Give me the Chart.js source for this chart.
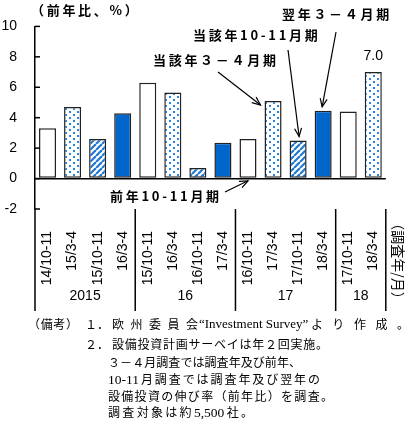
<!DOCTYPE html>
<html lang="ja">
  <head>
    <meta charset="UTF-8" />
    <title>欧州 設備投資計画サーベイ</title>
    <script src="https://cdn.jsdelivr.net/npm/chart.js"></script>
    <style>
      body {
        margin: 0;
        background: #fff;
      }
      #wrap {
        position: relative;
        width: 413px;
        height: 432px;
      }
      canvas {
        position: absolute;
        left: 0;
        top: 0;
      }
      .note {
        position: absolute;
        font-family: "Liberation Serif", "Noto Sans CJK JP", serif;
        font-size: 12px;
        line-height: 16px;
        white-space: nowrap;
        color: #000;
      }
      .fit {
        text-align: justify;
        text-align-last: justify;
        text-justify: inter-character;
      }
      .en {
        font-size: 13px;
      }
      .num {
        font-size: 13.5px;
      }
    </style>
  </head>
  <body>
    <div id="wrap">
      <canvas id="chart" width="413" height="432"></canvas>
      <div class="note fit" style="left: 28px; top: 317px; width: 50px">（備考）</div>
      <div class="note" style="left: 85px; top: 317px">１．</div>
      <div class="note fit" style="left: 112px; top: 317px; width: 86px">欧州委員会</div>
      <div class="note en" style="left: 199px; top: 316px">“Investment Survey”</div>
      <div class="note fit" style="left: 311px; top: 317px; width: 98px">より作成。</div>
      <div class="note" style="left: 85px; top: 337px">２．</div>
      <div class="note fit" style="left: 112px; top: 337px; width: 216px">設備投資計画サーベイは年２回実施。</div>
      <div class="note fit" style="left: 108px; top: 355px; width: 193px">３－４月調査では調査年及び前年、</div>
      <div class="note fit" style="left: 108px; top: 372px; width: 212px"><span class="num">10-11</span>月調査では調査年及び翌年の</div>
      <div class="note fit" style="left: 108px; top: 389px; width: 225px">設備投資の伸び率（前年比）を調査。</div>
      <div class="note fit" style="left: 108px; top: 405px; width: 145px">調査対象は約<span class="num">5,500</span>社。</div>
    </div>
    <script>
      // survey (year/month) and growth rate of planned investment, % y/y
      const categories = [
        "14/10-11", "15/3-4", "15/10-11", "16/3-4",
        "15/10-11", "16/3-4", "16/10-11", "17/3-4",
        "16/10-11", "17/3-4", "17/10-11", "18/3-4",
        "17/10-11", "18/3-4",
      ];
      const growth = [3.3, 4.7, 2.6, 4.3, 6.3, 5.65, 0.7, 2.35, 2.6, 5.1, 2.5, 4.45, 4.4, 7.0];
      const years = ["2015", "16", "17", "18"];
      const yearSpan = [4, 4, 4, 2];

      const BLUE = "#0066cc";
      const latin = "'Liberation Sans', Arial, sans-serif";
      const jp = "'Noto Sans CJK JP', sans-serif";

      function makePattern(draw, w, h) {
        const c = document.createElement("canvas");
        c.width = w;
        c.height = h;
        const g = c.getContext("2d");
        g.fillStyle = "#fff";
        g.fillRect(0, 0, w, h);
        draw(g);
        return c.getContext("2d").createPattern(c, "repeat");
      }
      const dots = makePattern((g) => {
        g.fillStyle = "#2a86dc";
        g.fillRect(1, 0, 2, 2);
        g.fillRect(5, 3, 2, 2);
      }, 8, 6);
      const hatch = makePattern((g) => {
        g.strokeStyle = "#1f79d4";
        g.lineWidth = 2.2;
        for (let k = -6; k <= 12; k += 6) {
          g.beginPath();
          g.moveTo(k, 6);
          g.lineTo(k + 6, 0);
          g.stroke();
        }
      }, 6, 6);
      // survey cycle: prev 10-11, same 3-4, same 10-11, next 3-4
      const fills = ["#ffffff", dots, hatch, BLUE];

      function line(ctx, x1, y1, x2, y2) {
        ctx.beginPath();
        ctx.moveTo(x1, y1);
        ctx.lineTo(x2, y2);
        ctx.stroke();
      }
      function arrow(ctx, x1, y1, x2, y2) {
        line(ctx, x1, y1, x2, y2);
        const a = Math.atan2(y2 - y1, x2 - x1);
        const len = 9, sp = 0.4;
        ctx.beginPath();
        ctx.moveTo(x2 - len * Math.cos(a - sp), y2 - len * Math.sin(a - sp));
        ctx.lineTo(x2, y2);
        ctx.lineTo(x2 - len * Math.cos(a + sp), y2 - len * Math.sin(a + sp));
        ctx.stroke();
      }

      const extras = {
        id: "extras",
        afterDraw(chart) {
          const { ctx, chartArea: a, scales } = chart;
          const x = scales.x, y = scales.y;
          const bars = chart.getDatasetMeta(0).data;
          ctx.save();
          ctx.strokeStyle = "#000";
          ctx.lineWidth = 1.5;
          line(ctx, a.left, a.bottom, a.left, 311);
          y.ticks.forEach((t) => {
            const py = y.getPixelForValue(t.value);
            line(ctx, a.left, py, a.left + 5, py);
          });

          // year groups under the survey labels
          ctx.fillStyle = "#000";
          ctx.font = "14px " + latin;
          ctx.textAlign = "center";
          ctx.textBaseline = "middle";
          let start = 0;
          years.forEach((yr, i) => {
            const end = start + yearSpan[i];
            const left = start === 0 ? a.left : (x.getPixelForValue(start - 1) + x.getPixelForValue(start)) / 2;
            const right = end === categories.length ? a.right : (x.getPixelForValue(end - 1) + x.getPixelForValue(end)) / 2;
            line(ctx, right, a.bottom, right, 311);
            ctx.fillText(yr, (left + right) / 2, 296);
            start = end;
          });

          // value label on the last bar
          const last = bars[bars.length - 1];
          ctx.fillText(growth[growth.length - 1].toFixed(1), last.x, last.y - 16);

          // axis unit
          ctx.save();
          ctx.translate(398, 261);
          ctx.rotate(Math.PI / 2);
          ctx.font = "14px " + jp;
          ctx.fillText("（調査年/月）", 0, 0);
          ctx.restore();

          // annotations
          ctx.font = "bold 13px " + jp;
          ctx.textAlign = "left";
          ctx.letterSpacing = "2.7px";
          ctx.fillText("（前年比、%）", 31, 10);
          ctx.fillText("翌年３－４月期", 282, 14);
          ctx.fillText("当該年10-11月期", 193, 35);
          ctx.fillText("当該年３－４月期", 153, 60);
          ctx.fillText("前年10-11月期", 110, 196);
          ctx.letterSpacing = "0px";

          ctx.lineWidth = 1.2;
          const b9 = bars[9], b10 = bars[10], b11 = bars[11], b8 = bars[8];
          arrow(ctx, 218, 72, b9.x - b9.width / 2 - 4, b9.y + 4);
          arrow(ctx, 288, 50, b10.x + 1, b10.y - 4);
          arrow(ctx, 336, 32, b11.x - 1, b11.y - 4);
          arrow(ctx, 225, 192, b8.x, b8.base + 3);
          ctx.restore();
        },
      };

      new Chart(document.getElementById("chart"), {
        type: "bar",
        data: {
          labels: categories,
          datasets: [
            {
              data: growth,
              backgroundColor: growth.map((v, i) => fills[i % 4]),
              borderColor: "#222",
              borderWidth: 1.5,
              borderSkipped: false,
              barPercentage: 0.68,
              categoryPercentage: 1,
            },
          ],
        },
        options: {
          responsive: false,
          animation: false,
          devicePixelRatio: 1,
          layout: { padding: { left: 0, top: 17, right: 26, bottom: 0 } },
          plugins: { legend: { display: false }, tooltip: { enabled: false } },
          scales: {
            x: {
              afterFit: (s) => { s.height = 223; },
              grid: { display: false, drawTicks: false },
              border: { display: false },
              ticks: {
                autoSkip: false,
                minRotation: 90,
                maxRotation: 90,
                padding: 22,
                color: "#000",
                font: { family: latin, size: 14 },
              },
            },
            y: {
              min: -2,
              max: 10,
              afterFit: (s) => { s.width = 35; },
              grid: {
                drawTicks: false,
                color: (c) => (c.tick && c.tick.value === 0 ? "#000" : "rgba(0,0,0,0)"),
                lineWidth: 1.5,
              },
              border: { display: true, color: "#000", width: 1.5 },
              ticks: {
                stepSize: 2,
                padding: 18,
                color: "#000",
                font: { family: latin, size: 14 },
              },
            },
          },
        },
        plugins: [extras],
      });
    </script>
  </body>
</html>
